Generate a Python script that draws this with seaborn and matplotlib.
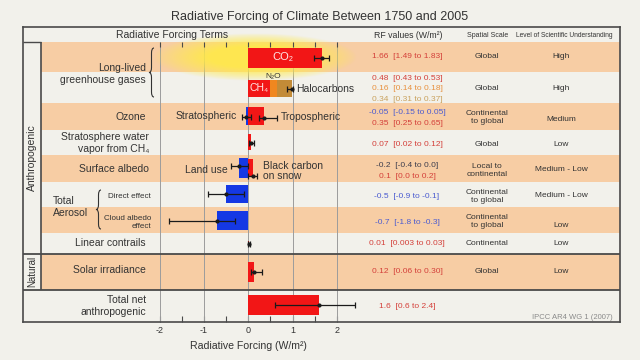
import numpy as np
import pandas as pd
import seaborn as sns
import matplotlib.pyplot as plt
from matplotlib.path import Path
from matplotlib.patches import PathPatch

# Radiative forcing terms 1750-2005 (W/m2), best estimate and range
terms = ['CO2', 'CH4', 'N2O', 'Halocarbons', 'Stratospheric ozone', 'Tropospheric ozone',
         'Stratospheric water vapour', 'Land use', 'Black carbon on snow',
         'Aerosol direct effect', 'Cloud albedo effect', 'Linear contrails',
         'Solar irradiance', 'Total net anthropogenic']
rf = [1.66, 0.48, 0.16, 0.34, -0.05, 0.35, 0.07, -0.2, 0.1, -0.5, -0.7, 0.01, 0.12, 1.6]
rf_low = [1.49, 0.43, 0.14, 0.31, -0.15, 0.25, 0.02, -0.4, 0.0, -0.9, -1.8, 0.003, 0.06, 0.6]
rf_high = [1.83, 0.53, 0.18, 0.37, 0.05, 0.65, 0.12, 0.0, 0.2, -0.1, -0.3, 0.03, 0.30, 2.4]
rf_text = ['1.66  [1.49 to 1.83]', '0.48  [0.43 to 0.53]', '0.16  [0.14 to 0.18]',
           '0.34  [0.31 to 0.37]', '-0.05  [-0.15 to 0.05]', '0.35  [0.25 to 0.65]',
           '0.07  [0.02 to 0.12]', '-0.2  [-0.4 to 0.0]', '0.1  [0.0 to 0.2]',
           '-0.5  [-0.9 to -0.1]', '-0.7  [-1.8 to -0.3]', '0.01  [0.003 to 0.03]',
           '0.12  [0.06 to 0.30]', '1.6  [0.6 to 2.4]']
llghg_err = [0.88, 1.0]   # error bar at the end of the stacked CH4/N2O/halocarbon bar

row_labels = ['Long-lived\ngreenhouse gases', 'Ozone', 'Stratosphere water\nvapor from CH\u2084',
              'Surface albedo', 'Linear contrails', 'Solar irradiance', 'Total net\nanthropogenic']
spatial_scale = ['Global', 'Global', 'Continental\nto global', 'Global', 'Local to\ncontinental',
                 'Continental\nto global', 'Continental\nto global', 'Continental', 'Global']
losu = ['High', 'High', 'Medium', 'Low', 'Medium - Low', 'Medium - Low', 'Low', 'Low', 'Low']

# colours
BG = '#F2F1EB'
PEACH = '#F7CDA4'
INK = '#333333'
LINE = '#4a4a4a'
RED = '#F21616'
BLUE = '#1538E4'
ORANGE = '#F0871F'
BROWN = '#C38B37'
T_RED, T_ORA, T_TAN, T_BLUE, T_DARK = '#D4403A', '#E8913F', '#C9A25E', '#4a5bd0', '#3d3d4d'

bar_color = [RED, RED, ORANGE, BROWN, BLUE, RED, RED, BLUE, RED, BLUE, BLUE, RED, RED, RED]
text_color = [T_RED, T_RED, T_ORA, T_TAN, T_BLUE, T_RED, T_RED, T_DARK, T_RED,
              T_BLUE, T_BLUE, T_RED, T_RED, T_RED]

# layout (vertical positions in pixels of the 640x360 image)
band_edges = [42, 72, 103, 130, 155, 182, 207, 233, 254, 290, 322]
bar_y = [57.5, 88.5, 88.5, 88.5, 116, 116, 142, 168, 167.5, 194, 220.5, 243.5, 272, 305]
bar_h = [20, 17, 17, 17, 18, 18, 16, 20, 18, 18, 19, 5, 20, 20]
err_y = [57.5, np.nan, np.nan, 89, 117, 118, 143, 166, 175.5, 194, 220.5, 243.5, 272, 305]
rf_text_y = [56, 78, 88, 99, 112, 123, 144, 165, 176, 196, 222, 243, 271, 306]
row_label_pos = [(146, 73.5), (146, 117), (149, 143), (149, 169), (146, 243), (146, 270), (146, 306)]
table_y = [56, 88, 117, 144, 170, 196, 221, 243, 271]
losu_y = [56, 88, 119, 144, 169, 195, 225, 243, 271]

sns.set_theme(style='white')
plt.rcParams['font.family'] = ['Liberation Sans', 'DejaVu Sans']

fig = plt.figure(figsize=(6.4, 3.6), dpi=100, facecolor=BG)
ax = fig.add_axes([23 / 640, 1 - 322 / 360, 597 / 640, 295 / 360], facecolor=BG)

X0, UNIT = 248.3, 44.3   # pixel of 0 W/m2 and pixels per W/m2


def px(x):
    return (x - X0) / UNIT


def brace(xp, y0, y1, w=5):
    ym = (y0 + y1) / 2
    pts = [(xp + w, y0), (xp + w / 2, y0), (xp + w / 2, y0 + w), (xp + w / 2, ym - w),
           (xp + w / 2, ym), (xp, ym), (xp + w / 2, ym), (xp + w / 2, ym + w),
           (xp + w / 2, y1 - w), (xp + w / 2, y1), (xp + w, y1)]
    codes = [Path.MOVETO, Path.CURVE3, Path.CURVE3, Path.LINETO, Path.CURVE3, Path.CURVE3,
             Path.CURVE3, Path.CURVE3, Path.LINETO, Path.CURVE3, Path.CURVE3]
    verts = [(px(x), y) for x, y in pts]
    ax.add_patch(PathPatch(Path(verts, codes), fc='none', ec=INK, lw=0.8, zorder=4))


df = pd.DataFrame({'term': terms, 'rf': rf, 'low': rf_low, 'high': rf_high,
                   'color': bar_color, 'y': bar_y, 'h': bar_h, 'ey': err_y})
stack = df['term'].isin(['CH4', 'N2O', 'Halocarbons'])
df['end'] = df['rf']
df.loc[stack, 'end'] = df.loc[stack, 'rf'].cumsum()

# background bands
for i in range(0, len(band_edges) - 1, 2):
    ax.axhspan(band_edges[i], band_edges[i + 1], xmin=18 / 597, xmax=1, color=PEACH, lw=0, zorder=0)

# grid lines
ax.vlines([-2, -1, 0, 1, 2], 42, 322, color='#9c9c9c', lw=0.7, zorder=1)

# yellow glow round CO2
gx, gy = np.meshgrid(np.linspace(-1, 1, 300), np.linspace(-1, 1, 80))
r = np.sqrt(gx ** 2 + gy ** 2)
glow = np.zeros((80, 300, 4))
glow[..., 0], glow[..., 1], glow[..., 2] = 1.0, 0.92, 0.28
glow[..., 3] = np.clip((1 - r) / 0.55, 0, 1) ** 0.8 * 0.9
ax.imshow(glow, extent=[px(153), px(357), 81, 33], aspect='auto', zorder=1.5,
          interpolation='bilinear')

# bars (stacked ones drawn longest first)
for i in df.index[::-1]:
    row = df.loc[i]
    sns.barplot(x=[row['end']], y=[row['y']], orient='h', native_scale=True, width=row['h'],
                color=row['color'], saturation=1, linewidth=0, errorbar=None, ax=ax, zorder=3)

eb = df[~stack]
ax.errorbar(eb['rf'], eb['ey'], xerr=[eb['rf'] - eb['low'], eb['high'] - eb['rf']],
            fmt='o', ms=2, color='#1a1a1a', elinewidth=0.9, capsize=2.2, capthick=0.9, zorder=5)
top = df.loc[stack, 'end'].iloc[-1]
ax.errorbar([top], [df.loc[stack, 'ey'].iloc[-1]], xerr=[[top - llghg_err[0]], [llghg_err[1] - top]],
            fmt='o', ms=2, color='#1a1a1a', elinewidth=0.9, capsize=2.2, capthick=0.9, zorder=5)

# frame and separators
for s in ax.spines.values():
    s.set_color(LINE)
    s.set_linewidth(1.2)
ax.vlines(px(41), 42, 290, color=LINE, lw=1.2, zorder=4)
ax.hlines(42, px(23), px(41), color=LINE, lw=1.0, zorder=4)
ax.hlines([254, 290], px(23), px(620), color=LINE, lw=1.3, zorder=4)
ax.vlines(np.arange(-2, 2.01, 0.5), 42, 46.5, color=LINE, lw=0.8, zorder=4)

ax.set_xlim(px(23), px(620))
ax.set_ylim(322, 27)
ax.set_yticks([])
ax.set_xticks([-2, -1, 0, 1, 2])
ax.set_xticklabels(['-2', '-1', '0', '1', '2'])
ax.set_xticks(np.arange(-2, 2.01, 0.5), minor=True)
ax.tick_params(axis='x', which='both', direction='in', length=4, width=0.8, color=LINE,
               labelsize=6.5, labelcolor=INK, pad=3, bottom=True, top=False)
ax.set_xlabel('')
ax.set_ylabel('')
ax.text(0, 346, 'Radiative Forcing (W/m\u00b2)', ha='center', va='center', fontsize=7.6, color=INK)

# title and header
fig.text(0.5, 1 - 17 / 360, 'Radiative Forcing of Climate Between 1750 and 2005',
         ha='center', va='center', fontsize=9, color=INK)
ax.text(px(172), 35, 'Radiative Forcing Terms', ha='center', va='center', fontsize=7.5, color=INK)
ax.text(px(408), 35, 'RF values (W/m\u00b2)', ha='center', va='center', fontsize=6.3, color=INK)
ax.text(px(488), 35, 'Spatial Scale', ha='center', va='center', fontsize=5, color=INK)
ax.text(px(564), 35, 'Level of Scientific Understanding', ha='center', va='center', fontsize=4.8, color=INK)

# left column
ax.text(px(32), 158, 'Anthropogenic', rotation=90, ha='center', va='center', fontsize=7.5, color=INK)
ax.text(px(32), 271, 'Natural', rotation=90, ha='center', va='center', fontsize=7, color=INK)

# row labels
for lab, (xp, yp) in zip(row_labels, row_label_pos):
    ax.text(px(xp), yp, lab, ha='right', va='center', fontsize=7.5, color=INK, linespacing=1.25)
ax.text(px(53), 207, 'Total\nAerosol', ha='left', va='center', fontsize=7.5, color=INK, linespacing=1.25)
ax.text(px(151), 196, 'Direct effect', ha='right', va='center', fontsize=5.8, color=INK)
ax.text(px(151), 222, 'Cloud albedo\neffect', ha='right', va='center', fontsize=5.8, color=INK)
brace(149, 48, 97)
brace(96, 190, 229)

# labels on the bars
ax.text(px(283), 57, 'CO\u2082', ha='center', va='center', fontsize=8, color='#FFE6E6', zorder=6)
ax.text(px(259), 88, 'CH\u2084', ha='center', va='center', fontsize=7.5, color='#FFE6E6', zorder=6)
ax.text(px(273), 76, 'N\u2082O', ha='center', va='center', fontsize=6, color=INK, zorder=6)
ax.text(px(296), 89, 'Halocarbons', ha='left', va='center', fontsize=7.5, color=INK, zorder=6)
ax.text(px(237), 116, 'Stratospheric', ha='right', va='center', fontsize=7.5, color=INK, zorder=6)
ax.text(px(281), 117, 'Tropospheric', ha='left', va='center', fontsize=7.5, color=INK, zorder=6)
ax.text(px(228), 170, 'Land use', ha='right', va='center', fontsize=7.5, color=INK, zorder=6)
ax.text(px(263), 171, 'Black carbon\non snow', ha='left', va='center', fontsize=7.5, color=INK,
        linespacing=1.1, zorder=6)

# table columns
for s, c, yp in zip(rf_text, text_color, rf_text_y):
    ax.text(px(407), yp, s, ha='center', va='center', fontsize=6, color=c)
for s, yp in zip(spatial_scale, table_y):
    ax.text(px(487), yp, s, ha='center', va='center', fontsize=6, color=INK, linespacing=1.2)
for s, yp in zip(losu, losu_y):
    ax.text(px(561), yp, s, ha='center', va='center', fontsize=6, color=INK)
ax.text(px(613), 317, 'IPCC AR4 WG 1 (2007)', ha='right', va='center', fontsize=5.5, color='#8a8a8a')

fig.savefig('out.png', dpi=100, facecolor=BG)
